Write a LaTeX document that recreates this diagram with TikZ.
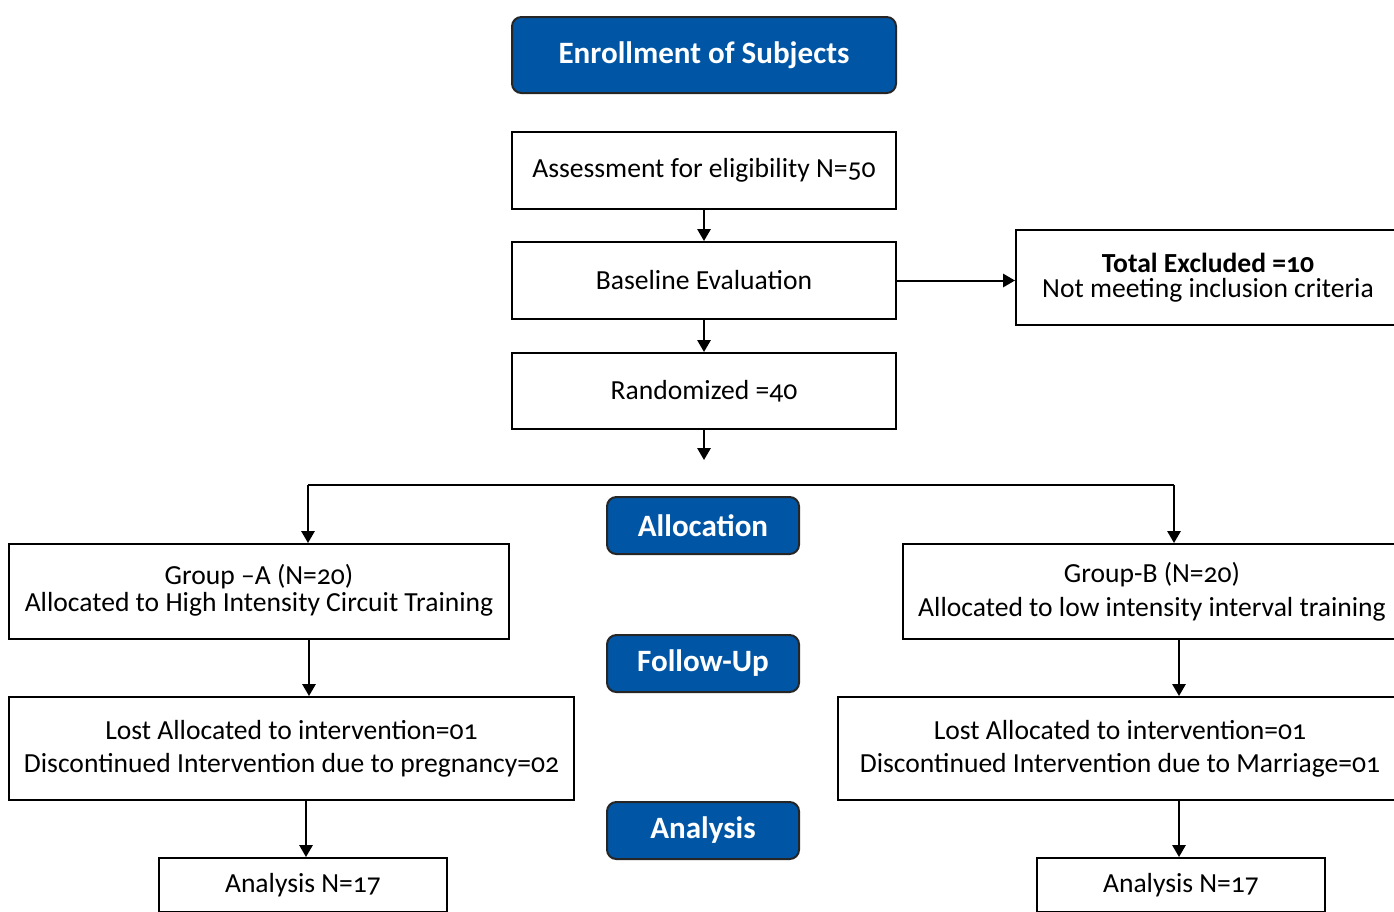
\documentclass[tikz,border=0pt]{standalone}
\usepackage{fontspec}
\setmainfont{Carlito}[Numbers=OldStyle]
\usetikzlibrary{arrows.meta}
\definecolor{hdrblue}{RGB}{0,85,165}
\begin{document}
\begin{tikzpicture}[x=0.75pt,y=-0.75pt,
  box/.style={draw=black,line width=1.5pt,fill=white,inner sep=0pt,align=center,font=\fontsize{20.7}{24}\selectfont},
  hdr/.style={draw=black!85,line width=1.5pt,fill=hdrblue,rounded corners=7pt,inner sep=0pt,align=center,text=white,font=\fontsize{23.3}{27}\selectfont\bfseries},
  arr/.style={line width=1.5pt,-{Triangle[width=10pt,length=9pt]}},
  ln/.style={line width=1.5pt}]
\useasboundingbox (0,0) rectangle (1394,911);
\clip (0,0) rectangle (1394,911);
% headers
\node[hdr,minimum width=384*0.75pt,minimum height=76*0.75pt] (enroll) at (704,55) {Enrollment of Subjects};
\node[hdr,minimum width=192*0.75pt,minimum height=57*0.75pt] (alloc) at (703,525.5) {Allocation};
\node[hdr,minimum width=192*0.75pt,minimum height=57*0.75pt] (follow) at (703,663.5) {Follow-Up};
\node[hdr,minimum width=192*0.75pt,minimum height=57*0.75pt] (analysis) at (703,830.5) {Analysis};
% main column
\node[box,minimum width=384*0.75pt,minimum height=77*0.75pt] (assess) at (704,170.5) {Assessment for eligibility N=50};
\node[box,minimum width=384*0.75pt,minimum height=77*0.75pt] (base) at (704,280.5) {Baseline Evaluation};
\node[box,minimum width=384*0.75pt,minimum height=76*0.75pt] (rand) at (704,391) {Randomized =40};
\node[box,minimum width=384*0.75pt,minimum height=95*0.75pt] (excl) at (1208,277.5) {\textbf{Total Excluded =10}\\[-5.25pt]Not meeting inclusion criteria};
% groups
\node[box,minimum width=500*0.75pt,minimum height=95*0.75pt] (grpA) at (259,591.5) {Group –A (N=20)\\[-3.75pt]Allocated to High Intensity Circuit Training\\[-18pt]\mbox{}};
\node[box,minimum width=498*0.75pt,minimum height=95*0.75pt] (grpB) at (1152,591.5) {Group-B (N=20)\\[1.5pt]Allocated to low intensity interval training};
\node[box,minimum width=565*0.75pt,minimum height=103*0.75pt] (lostA) at (291.5,748.5) {Lost Allocated to intervention=01\\[0.75pt]Discontinued Intervention due to pregnancy=02};
\node[box,minimum width=564*0.75pt,minimum height=103*0.75pt] (lostB) at (1120,748.5) {Lost Allocated to intervention=01\\[0.75pt]Discontinued Intervention due to Marriage=01};
\node[box,minimum width=288*0.75pt,minimum height=54*0.75pt] (anaA) at (303,885) {Analysis N=17};
\node[box,minimum width=288*0.75pt,minimum height=54*0.75pt] (anaB) at (1181,885) {Analysis N=17};
% helper coordinates
\coordinate (rEnd) at (704,460);
\coordinate (hA) at (308,485);
\coordinate (hB) at (1174,485);
\coordinate (xA1) at (309,0);
\coordinate (xA2) at (306,0);
\coordinate (xB) at (1179,0);
% connectors
\draw[arr] (assess) -- (base);
\draw[arr] (base) -- (rand);
\draw[arr] (base.east) -- (base.east -| excl.west);
\draw[arr] (rand.south) -- (rEnd);
\draw[ln] (hA) -- (hB);
\draw[arr] (hA) -- (hA |- grpA.north);
\draw[arr] (hB) -- (hB |- grpB.north);
\draw[arr] (grpA.south -| xA1) -- (lostA.north -| xA1);
\draw[arr] (lostA.south -| xA2) -- (anaA.north -| xA2);
\draw[arr] (grpB.south -| xB) -- (lostB.north -| xB);
\draw[arr] (lostB.south -| xB) -- (anaB.north -| xB);
\end{tikzpicture}
\end{document}
